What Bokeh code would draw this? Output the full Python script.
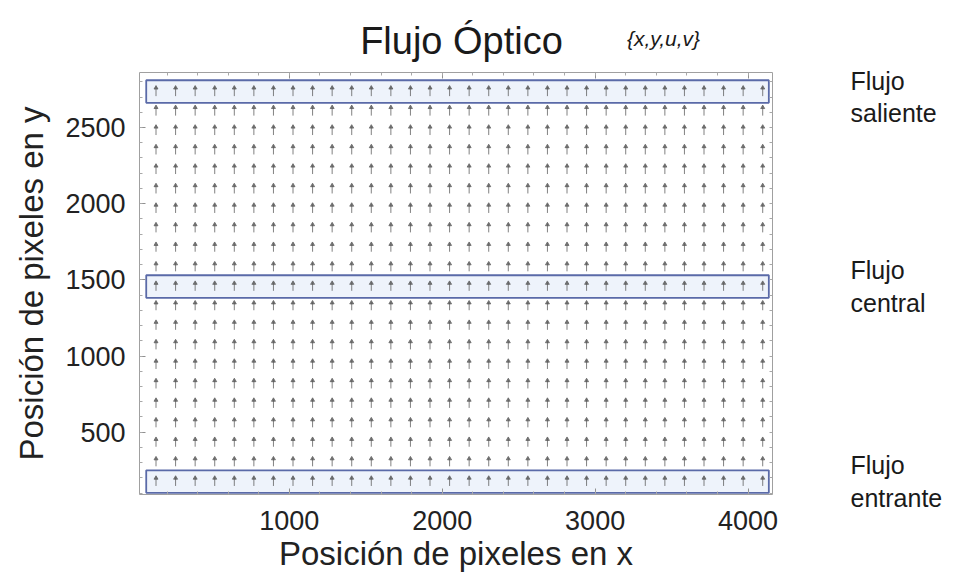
from bokeh.plotting import figure
from bokeh.models import Range1d, LinearAxis, FixedTicker
from bokeh.layouts import column, row
from bokeh.core.properties import value
from bokeh.embed import file_html
from bokeh.resources import INLINE

# ---- data -------------------------------------------------------------
col_x = [128, 256, 384, 512, 640, 768, 896, 1024, 1152, 1280, 1408, 1536,
         1664, 1792, 1920, 2048, 2176, 2304, 2432, 2560, 2688, 2816, 2944,
         3072, 3200, 3328, 3456, 3584, 3712, 3840, 3968, 4096]
row_y = [176, 304, 432, 560, 688, 816, 944, 1072, 1200, 1328, 1456, 1584,
         1712, 1840, 1968, 2096, 2224, 2352, 2480, 2608, 2736]
# vertical flow component per row (pixels), horizontal component ~0
row_v = [58, 56, 55, 56, 57, 58, 58, 57, 56, 55, 56, 56,
         55, 57, 58, 58, 59, 58, 59, 60, 60]
col_u = [0] * len(col_x)

x_ticks = [1000, 2000, 3000, 4000]
y_ticks = [500, 1000, 1500, 2000, 2500]

title_text = "Flujo Óptico"
title_note = "{x,y,u,v}"
regions = ["Flujo\nsaliente", "Flujo\ncentral", "Flujo\nentrante"]
region_rows = [2736, 1456, 176]
box_x = [64, 4136]
box_half_h = 74

FONT = "Liberation Sans"
TOP_H = 66
MAIN_H = 586 - TOP_H

# ---- title strip --------------------------------------------------------
top = figure(width=961, height=TOP_H, output_backend="svg",
             toolbar_location=None, x_axis_location=None,
             y_axis_location=None, x_range=Range1d(0, 961),
             y_range=Range1d(TOP_H, 0), min_border=0)
top.outline_line_color = None
top.grid.visible = False
top.text(x=[461], y=[40], text=[title_text], text_align="center",
         text_baseline="middle", text_font=value(FONT),
         text_font_size="38px", text_color="#1a1a1a")
top.text(x=[663], y=[38], text=[title_note], text_align="center",
         text_baseline="middle", text_font=value(FONT),
         text_font_style="italic", text_font_size="21px", text_color="#1a1a1a")

# ---- main plot ------------------------------------------------------------
p = figure(width=961, height=MAIN_H, output_backend="svg",
           toolbar_location=None,
           x_range=Range1d(20, 4160), y_range=Range1d(91, 2861),
           min_border_left=139, min_border_right=189,
           min_border_top=72 - TOP_H, min_border_bottom=92)
p.background_fill_color = "white"
p.border_fill_color = "white"
p.outline_line_color = "#a0a0a0"
p.grid.visible = False

for ry in region_rows:
    p.quad(left=[box_x[0]], right=[box_x[1]], bottom=[ry - box_half_h],
           top=[ry + box_half_h], fill_color="#eef3fb", fill_alpha=1.0,
           line_color="#5a6aa8", line_width=1.8)

x0, y0, x1, y1, hx, hy = [], [], [], [], [], []
for j, y in enumerate(row_y):
    v = row_v[j]
    for i, x in enumerate(col_x):
        u = col_u[i]
        x0.append(x - u / 2); y0.append(y - v / 2)
        x1.append(x + u / 2); y1.append(y + v / 2)
        hx.append(x + u / 2); hy.append(y + v / 2 - 6)
p.segment(x0=x0, y0=y0, x1=x1, y1=y1, line_color="#555555", line_width=1.0,
          line_alpha=0.75)
p.scatter(x=hx, y=hy, marker="triangle", size=4, fill_color="#555555",
          line_color="#555555", alpha=0.7)

for ax, ticks, minors in ((p.xaxis[0], x_ticks, list(range(0, 4400, 200))),
                          (p.yaxis[0], y_ticks, list(range(0, 3000, 100)))):
    ax.ticker = FixedTicker(ticks=ticks, minor_ticks=minors)
    ax.major_tick_in = 6
    ax.major_tick_out = 0
    ax.minor_tick_in = 3
    ax.minor_tick_out = 0
    ax.axis_line_color = None
    ax.major_tick_line_color = "#909090"
    ax.minor_tick_line_color = "#a8a8a8"
    ax.major_label_text_font = FONT
    ax.major_label_text_font_size = "27px"
    ax.major_label_text_color = "#222222"
    ax.axis_label_text_font = FONT
    ax.axis_label_text_font_size = "33px"
    ax.axis_label_text_font_style = "normal"
    ax.axis_label_text_color = "#222222"

p.xaxis.axis_label = "Posición de pixeles en x"
p.yaxis.axis_label = "Posición de pixeles en y"
p.xaxis.major_label_standoff = 16
p.xaxis.axis_label_standoff = 2
p.yaxis.major_label_standoff = 14
p.yaxis.axis_label_standoff = 12

# frame ticks on the top side
top_ax = LinearAxis(ticker=FixedTicker(ticks=x_ticks,
                    minor_ticks=list(range(0, 4400, 200))),
                    major_label_text_color=None, axis_line_color=None,
                    major_tick_in=6, major_tick_out=0, minor_tick_in=3,
                    minor_tick_out=0, major_tick_line_color="#909090",
                    minor_tick_line_color="#a8a8a8",
                    major_label_text_font_size="1px", major_label_standoff=0)
p.add_layout(top_ax, "above")

# right side: frame ticks whose labels name the three flow regions
right_ax = LinearAxis(ticker=FixedTicker(ticks=region_rows,
                      minor_ticks=list(range(0, 3000, 100))),
                      axis_line_color=None,
                      major_tick_in=0, major_tick_out=0, minor_tick_in=3,
                      minor_tick_out=0, major_tick_line_color=None,
                      minor_tick_line_color="#a8a8a8",
                      major_label_overrides={r: t for r, t in zip(region_rows, regions)},
                      major_label_text_font=FONT,
                      major_label_text_font_size="25px",
                      major_label_text_color="#1a1a1a",
                      major_label_text_line_height=1.15,
                      major_label_standoff=78)
p.add_layout(right_ax, "right")

layout = column(top, row(p), spacing=0)
open("out.html", "w").write(file_html(layout, INLINE))
